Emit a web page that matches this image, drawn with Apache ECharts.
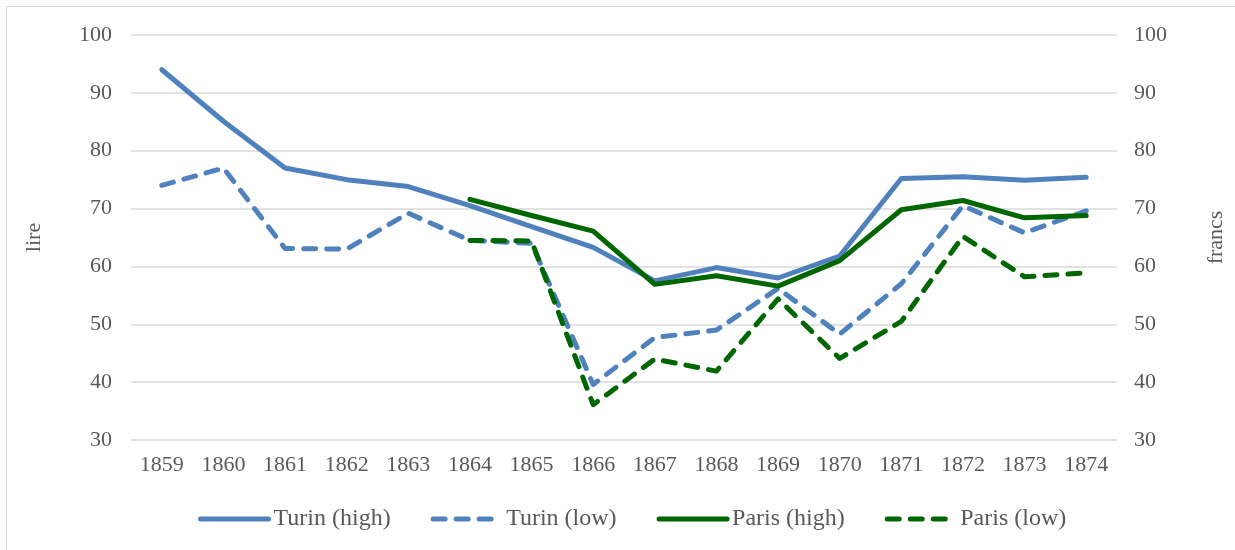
<!DOCTYPE html>
<html>
<head>
<meta charset="utf-8">
<script src="https://cdn.jsdelivr.net/npm/echarts@6/dist/echarts.min.js"></script>
<style>
  html, body { margin: 0; padding: 0; background: #fff; }
  #frame { position: absolute; left: 6px; top: 6px; width: 1240px; height: 560px; border: 1px solid #d9d9d9; box-sizing: border-box; }
  #chart { position: absolute; left: 0; top: 0; width: 1235px; height: 550px; }
</style>
</head>
<body>
<div id="frame"></div>
<div id="chart"></div>
<script>
const years = ['1859','1860','1861','1862','1863','1864','1865','1866','1867','1868','1869','1870','1871','1872','1873','1874'];
const turinHigh = [94, 85.1, 77, 75, 73.8, 70.5, 66.9, 63.3, 57.5, 59.8, 58, 61.8, 75.2, 75.5, 74.9, 75.4];
const turinLow  = [74, 77, 63.1, 63, 69.2, 64.5, 64, 39.6, 47.7, 49, 56.2, 48.3, 57, 70.5, 65.8, 69.6];
const parisHigh = [null, null, null, null, null, 71.6, 68.8, 66.1, 56.9, 58.4, 56.6, 61, 69.8, 71.4, 68.4, 68.8];
const parisLow  = [null, null, null, null, null, 64.5, 64.4, 36.1, 44, 41.9, 54.4, 44.1, 50.5, 65.2, 58.2, 58.9];
const yTicksMin = 30, yTicksMax = 100, yStep = 10;

const BLUE = '#4f81bd', GREEN = '#006600';
const FONT = '"Liberation Serif", "Times New Roman", serif';
const TXT = '#595959';

const chart = echarts.init(document.getElementById('chart'));
function mk(name, data, color, dashed, yIndex) {
  return {
    name, type: 'line', data, yAxisIndex: yIndex,
    symbol: 'none', connectNulls: false,
    lineStyle: { color, width: 5, type: dashed ? [12, 11] : 'solid', cap: 'round', join: 'round' },
    itemStyle: { color }
  };
}
chart.setOption({
  animation: false,
  textStyle: { fontFamily: FONT, color: TXT },
  grid: { left: 131, right: 117, top: 35, bottom: 110 },
  legend: {
    bottom: 14, left: 193,
    itemWidth: 68, itemHeight: 14, itemGap: 40,
    itemStyle: { opacity: 0 },
    lineStyle: { width: 5, cap: 'round' },
    textStyle: { fontFamily: FONT, fontSize: 24, color: TXT },
    data: ['Turin (high)', 'Turin (low)', 'Paris (high)', 'Paris (low)']
  },
  xAxis: {
    type: 'category', data: years, boundaryGap: true,
    axisLine: { show: false }, axisTick: { show: false },
    axisLabel: { fontFamily: FONT, fontSize: 22, color: TXT, margin: 14 }
  },
  yAxis: [
    {
      type: 'value', min: yTicksMin, max: yTicksMax, interval: yStep,
      name: 'lire', nameLocation: 'middle', nameGap: 86, nameRotate: 90,
      nameTextStyle: { fontFamily: FONT, fontSize: 22, color: TXT },
      axisLine: { show: false }, axisTick: { show: false },
      axisLabel: { fontFamily: FONT, fontSize: 22, color: TXT, margin: 19 },
      splitLine: { lineStyle: { color: '#d9d9d9', width: 1.5 } }
    },
    {
      type: 'value', min: yTicksMin, max: yTicksMax, interval: yStep, position: 'right',
      name: 'francs', nameLocation: 'middle', nameGap: 88, nameRotate: 90,
      nameTextStyle: { fontFamily: FONT, fontSize: 22, color: TXT },
      axisLine: { show: false }, axisTick: { show: false },
      axisLabel: { fontFamily: FONT, fontSize: 22, color: TXT, margin: 17 },
      splitLine: { show: false }
    }
  ],
  series: [
    mk('Turin (high)', turinHigh, BLUE, false, 0),
    mk('Turin (low)', turinLow, BLUE, true, 0),
    mk('Paris (high)', parisHigh, GREEN, false, 1),
    mk('Paris (low)', parisLow, GREEN, true, 1)
  ]
});
</script>
</body>
</html>
